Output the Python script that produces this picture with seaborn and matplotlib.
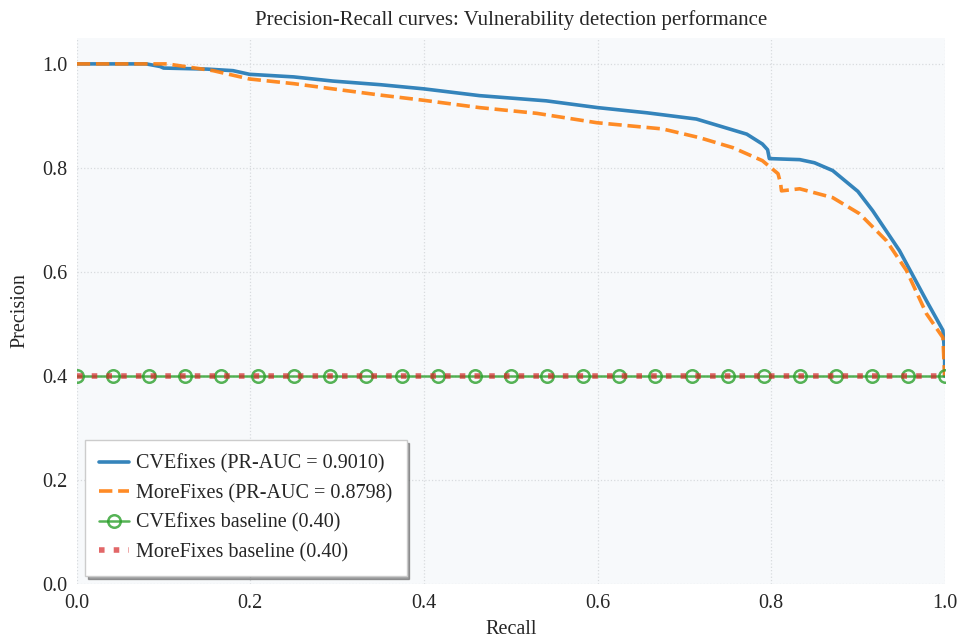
import matplotlib
matplotlib.use("Agg")
import matplotlib.pyplot as plt
import seaborn as sns
import pandas as pd

# values
cve_recall = [0.0, 0.08, 0.096, 0.10, 0.15, 0.18, 0.199, 0.25, 0.295, 0.35, 0.40, 0.464, 0.541,
              0.60, 0.657, 0.714, 0.772, 0.79, 0.796, 0.798, 0.833, 0.85, 0.871, 0.90, 0.917,
              0.948, 0.979, 0.998, 1.0, 1.0]
cve_prec = [1.0, 1.0, 0.995, 0.992, 0.99, 0.987, 0.98, 0.975, 0.967, 0.96, 0.952, 0.939, 0.929,
            0.916, 0.906, 0.894, 0.865, 0.846, 0.835, 0.818, 0.816, 0.81, 0.795, 0.755, 0.718,
            0.641, 0.545, 0.488, 0.443, 0.40]

mf_recall = [0.0, 0.104, 0.157, 0.199, 0.25, 0.295, 0.35, 0.40, 0.464, 0.53, 0.599, 0.675,
             0.718, 0.756, 0.79, 0.808, 0.811, 0.812, 0.833, 0.871, 0.902, 0.933, 0.956, 0.979,
             0.998, 1.0]
mf_prec = [1.0, 1.0, 0.987, 0.971, 0.962, 0.952, 0.94, 0.93, 0.916, 0.905, 0.887, 0.875,
           0.858, 0.839, 0.814, 0.789, 0.77, 0.756, 0.76, 0.743, 0.712, 0.66, 0.603, 0.52,
           0.474, 0.40]

baseline_recall = [0.0, 1.0]
cve_base = [0.40, 0.40]
mf_base = [0.40, 0.40]

labels = ["CVEfixes (PR-AUC = 0.9010)", "MoreFixes (PR-AUC = 0.8798)",
          "CVEfixes baseline (0.40)", "MoreFixes baseline (0.40)"]

sns.set_style("whitegrid")
plt.rcParams['font.family'] = ['Liberation Serif', 'DejaVu Serif']

fig = plt.figure(figsize=(9.6, 6.42), dpi=100)
ax = fig.add_axes([0.080, 0.090, 0.904, 0.851])
ax.set_facecolor("#f7f9fb")

cve = pd.DataFrame({"Recall": cve_recall, "Precision": cve_prec})
mf = pd.DataFrame({"Recall": mf_recall, "Precision": mf_prec})

sns.lineplot(data=cve, x="Recall", y="Precision", sort=False, estimator=None,
             color="#1f77b4", linewidth=2.6, alpha=0.9, label=labels[0], ax=ax)
sns.lineplot(data=mf, x="Recall", y="Precision", sort=False, estimator=None,
             color="#ff7f0e", linewidth=2.6, linestyle="--", alpha=0.9, label=labels[1], ax=ax)

# baselines with markers spread along the line
n_marks = 25
base_x = [i / (n_marks - 1) for i in range(n_marks)]
ax.plot(base_x, [cve_base[0]] * n_marks, color="#2ca02c", linewidth=1.8, alpha=0.8,
        marker="o", markersize=9, markerfacecolor="none", markeredgewidth=1.8,
        label=labels[2])
ax.plot(baseline_recall, mf_base, color="#d62728", linewidth=4, linestyle=":", alpha=0.7,
        label=labels[3])

ax.set_xlim(0, 1.0)
ax.set_ylim(0, 1.05)
ax.set_xticks([0.0, 0.2, 0.4, 0.6, 0.8, 1.0])
ax.set_yticks([0.0, 0.2, 0.4, 0.6, 0.8, 1.0])
ax.grid(True, linestyle=":", color="#d8dbde", linewidth=0.9)
for s in ax.spines.values():
    s.set_visible(False)
ax.tick_params(labelsize=14.5, length=0, pad=7)

ax.set_title("Precision-Recall curves: Vulnerability detection performance", fontsize=15, pad=9)
ax.set_xlabel("Recall", fontsize=14.5, labelpad=5)
ax.set_ylabel("Precision", fontsize=14.5, labelpad=9)

leg = ax.legend(loc="lower left", fontsize=14.5, frameon=True, fancybox=False, shadow=True,
                borderpad=0.7, labelspacing=0.5, handlelength=1.5, handletextpad=0.35,
                borderaxespad=0.4, bbox_to_anchor=(0.0, 0.0))
leg.get_frame().set_edgecolor("#cccccc")
leg.get_frame().set_facecolor("white")
leg.get_frame().set_alpha(1.0)

fig.savefig("out.png", dpi=100)
